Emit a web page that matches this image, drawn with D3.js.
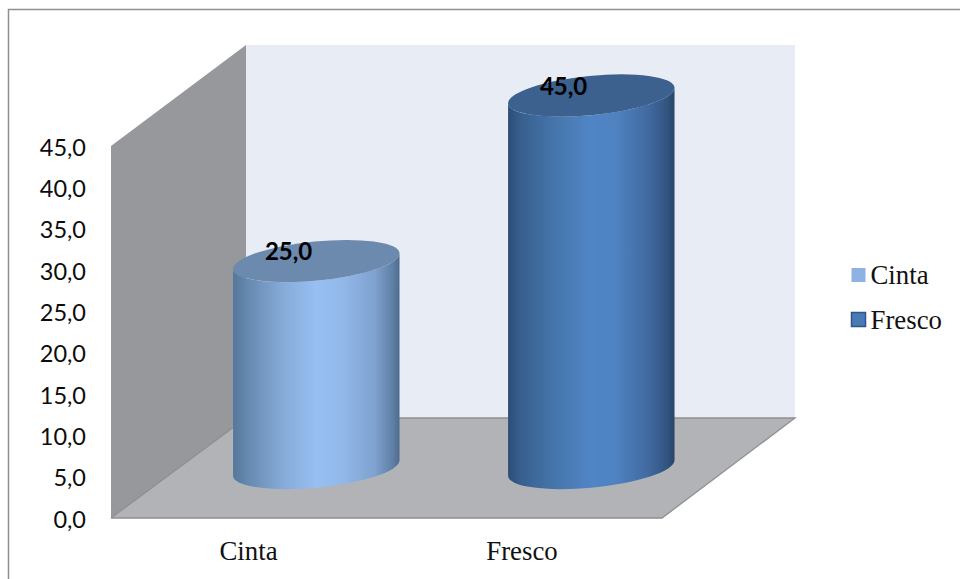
<!DOCTYPE html>
<html>
<head>
<meta charset="utf-8">
<script src="https://cdn.jsdelivr.net/npm/d3@7"></script>
<style>
  html, body { margin: 0; padding: 0; background: #fff; }
  svg { display: block; }
  .tick text { font-family: Lato, sans-serif; font-size: 23.5px; fill: #0c0c0c; }
</style>
</head>
<body>
<svg id="chart" width="960" height="579"></svg>
<script>
// Chart values
const categories = ["Cinta", "Fresco"];
const values = [25.0, 45.0];
const tickValues = [0, 5, 10, 15, 20, 25, 30, 35, 40, 45];
const topColors = ["#6c89ae", "#3c618e"];
const sideStops = [
  [[0, "#55779b"], [0.08, "#6488ae"], [0.3, "#86abd8"], [0.5, "#98bff2"], [0.65, "#93b9ea"], [0.85, "#7fa2cf"], [0.96, "#5f7fa5"], [1, "#4e6b8e"]],
  [[0, "#2d4d75"], [0.08, "#38608f"], [0.3, "#4777ae"], [0.5, "#5085c6"], [0.65, "#4e82c0"], [0.85, "#41699f"], [0.96, "#31537f"], [1, "#2a4468"]]
];
const legendSwatch = ["#8db2e3", "#4a7ab5"];
const legendStroke = ["none", "#2f5585"];

const fmt = v => v.toFixed(1).replace(".", ",");
const svg = d3.select("#chart");
const defs = svg.append("defs");

// Frame of the chart area, open on the right and bottom
svg.append("path")
  .attr("d", "M8.5,579V9.5H960")
  .attr("fill", "none").attr("stroke", "#8f8f8f").attr("stroke-width", 1.5);

// Front edge of the box (axis) and rear wall share the same value domain
const yAxisScale = d3.scaleLinear().domain([0, 45]).range([518, 146]);
const yBar = d3.scaleLinear().domain([0, 45]).range([468, 95.5]);
const x = d3.scalePoint().domain(categories).range([316.3, 591.3]);

const frontL = 111, backL = 246, backR = 795, frontR = 662;
const floorFront = yAxisScale(0), floorBack = 418;
const wallTopFront = yAxisScale(45), wallTopBack = 45;

// Rear wall
svg.append("rect")
  .attr("x", backL).attr("y", wallTopBack)
  .attr("width", backR - backL).attr("height", floorBack - wallTopBack)
  .attr("fill", "#e8ecf5");

// Side wall
svg.append("path")
  .attr("d", d3.line()([[frontL, floorFront], [frontL, wallTopFront], [backL, wallTopBack], [backL, floorBack]]) + "Z")
  .attr("fill", "#97989b");

// Floor with its darker edges
svg.append("path")
  .attr("d", d3.line()([[frontL, floorFront], [backL, floorBack], [backR, floorBack], [frontR, floorFront]]) + "Z")
  .attr("fill", "#b1b3b7");
svg.append("path")
  .attr("d", d3.line()([[frontL, floorFront], [frontR, floorFront], [backR, floorBack], [backL, floorBack], [frontL, floorFront]]))
  .attr("fill", "none").attr("stroke", "#8e8f91").attr("stroke-width", 1.3);

// Cylinders: a tilted ellipse on top of a shaded body
const rx = 83.6, ry = 19.6, tilt = -5.6 * Math.PI / 180;
const t0 = Math.atan(-(ry / rx) * Math.tan(tilt));
const ex = rx * Math.cos(t0) * Math.cos(tilt) - ry * Math.sin(t0) * Math.sin(tilt);
const ey = rx * Math.cos(t0) * Math.sin(tilt) + ry * Math.sin(t0) * Math.cos(tilt);
const deg = tilt * 180 / Math.PI;

categories.forEach((c, i) => {
  const cx = x(c), yTop = yBar(values[i]), yBase = yBar(0);
  const grad = defs.append("linearGradient").attr("id", "side" + i)
    .attr("x1", 0).attr("x2", 1).attr("y1", 0).attr("y2", 0);
  sideStops[i].forEach(s => grad.append("stop").attr("offset", s[0]).attr("stop-color", s[1]));

  svg.append("path")
    .attr("d", `M${cx - ex},${yTop - ey}L${cx - ex},${yBase - ey}` +
      `A${rx},${ry} ${deg} 0 0 ${cx + ex},${yBase + ey}` +
      `L${cx + ex},${yTop + ey}` +
      `A${rx},${ry} ${deg} 0 1 ${cx - ex},${yTop - ey}Z`)
    .attr("fill", `url(#side${i})`);

  svg.append("ellipse")
    .attr("cx", cx).attr("cy", yTop).attr("rx", rx).attr("ry", ry)
    .attr("transform", `rotate(${deg} ${cx} ${yTop})`)
    .attr("fill", topColors[i]);

  svg.append("text")
    .attr("x", cx - 27.7).attr("y", yTop - 7)
    .attr("dominant-baseline", "middle").attr("text-anchor", "middle")
    .attr("font-family", "Lato, sans-serif").attr("font-weight", 700)
    .attr("font-size", 24).attr("fill", "#000")
    .text(fmt(values[i]));
});

// Value axis
const axis = svg.append("g").attr("transform", "translate(93,1.5)")
  .call(d3.axisLeft(yAxisScale).tickValues(tickValues).tickFormat(fmt).tickSize(0).tickPadding(7));
axis.select(".domain").remove();

// Category labels
const catX = d3.scalePoint().domain(categories).range([248.5, 522]);
svg.selectAll(".cat").data(categories).join("text")
  .attr("class", "cat")
  .attr("x", d => catX(d)).attr("y", 559.5)
  .attr("text-anchor", "middle")
  .attr("font-family", "'Liberation Serif', serif").attr("font-size", 26.8).attr("fill", "#111")
  .text(d => d);

// Legend
const legendY = d3.scalePoint().domain(categories).range([275, 319.5]);
const legend = svg.selectAll(".leg").data(categories).join("g")
  .attr("class", "leg")
  .attr("transform", d => `translate(851,${legendY(d)})`);
legend.append("rect")
  .attr("x", 0.5).attr("y", -7).attr("width", 14).attr("height", 14)
  .attr("fill", (d, i) => legendSwatch[i])
  .attr("stroke", (d, i) => legendStroke[i]).attr("stroke-width", 1.5);
legend.append("text")
  .attr("x", 19.5).attr("y", 9)
  .attr("font-family", "'Liberation Serif', serif").attr("font-size", 26.8).attr("fill", "#111")
  .text(d => d);
</script>
</body>
</html>
